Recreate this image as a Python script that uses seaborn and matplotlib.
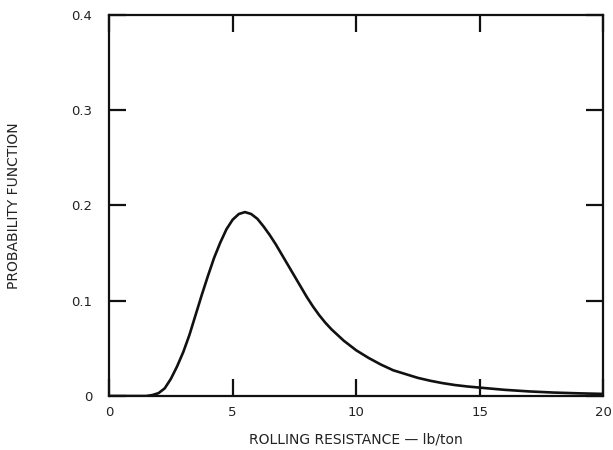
import matplotlib
matplotlib.use("Agg")
import matplotlib.pyplot as plt
import seaborn as sns
import pandas as pd

# Rolling resistance (lb/ton) and its probability density
resistance = [0, 1.0, 1.5, 1.75, 2.0, 2.25, 2.5, 2.75, 3.0, 3.25, 3.5, 3.75,
              4.0, 4.25, 4.5, 4.75, 5.0, 5.25, 5.5, 5.75, 6.0, 6.25, 6.5,
              6.75, 7.0, 7.25, 7.5, 7.75, 8.0, 8.25, 8.5, 8.75, 9.0, 9.25,
              9.5, 9.75, 10.0, 10.5, 11.0, 11.5, 12.0, 12.5, 13.0, 13.5,
              14.0, 14.5, 15.0, 16.0, 17.0, 18.0, 19.0, 20.0]
density = [0, 0, 0, 0.001, 0.003, 0.008, 0.018, 0.031, 0.046, 0.064, 0.085,
           0.106, 0.126, 0.145, 0.161, 0.175, 0.185, 0.191, 0.193, 0.191,
           0.186, 0.178, 0.169, 0.159, 0.148, 0.137, 0.126, 0.115, 0.104,
           0.094, 0.085, 0.077, 0.070, 0.064, 0.058, 0.053, 0.048, 0.040,
           0.033, 0.027, 0.023, 0.019, 0.016, 0.0135, 0.0115, 0.010, 0.0088,
           0.0065, 0.0048, 0.0036, 0.0028, 0.0022]

x_ticks = [0, 5, 10, 15, 20]
x_tick_labels = ["0", "5", "10", "15", "20"]
y_ticks = [0, 0.1, 0.2, 0.3, 0.4]
y_tick_labels = ["0", "0.1", "0.2", "0.3", "0.4"]

sns.set_theme(style="ticks")
plt.rcParams["font.family"] = ["DejaVu Sans"]

df = pd.DataFrame({"resistance": resistance, "density": density})

fig = plt.figure(figsize=(6.13, 4.5), dpi=100)
ax = fig.add_axes([0.178, 0.12, 0.806, 0.847])

sns.lineplot(data=df, x="resistance", y="density", ax=ax,
             color="#111111", linewidth=1.9)

ax.set_xlim(0, 20)
ax.set_ylim(0, 0.4)
ax.set_xticks(x_ticks)
ax.set_xticklabels(x_tick_labels)
ax.set_yticks(y_ticks)
ax.set_yticklabels(y_tick_labels)

for side in ["left", "right", "top", "bottom"]:
    ax.spines[side].set_visible(True)
    ax.spines[side].set_linewidth(1.6)
    ax.spines[side].set_color("#111111")

ax.tick_params(axis="both", which="major", direction="in", length=12,
               width=1.6, color="#111111", labelsize=9.5,
               labelcolor="#222222", top=True, right=True)
ax.tick_params(axis="x", pad=7)
ax.tick_params(axis="y", pad=12)

ax.set_xlabel("ROLLING RESISTANCE \u2014 lb/ton", fontsize=10,
              color="#222222", labelpad=10)
ax.set_ylabel("PROBABILITY FUNCTION", fontsize=10, color="#222222",
              labelpad=36)

fig.savefig("out.png", dpi=100, facecolor="white")
